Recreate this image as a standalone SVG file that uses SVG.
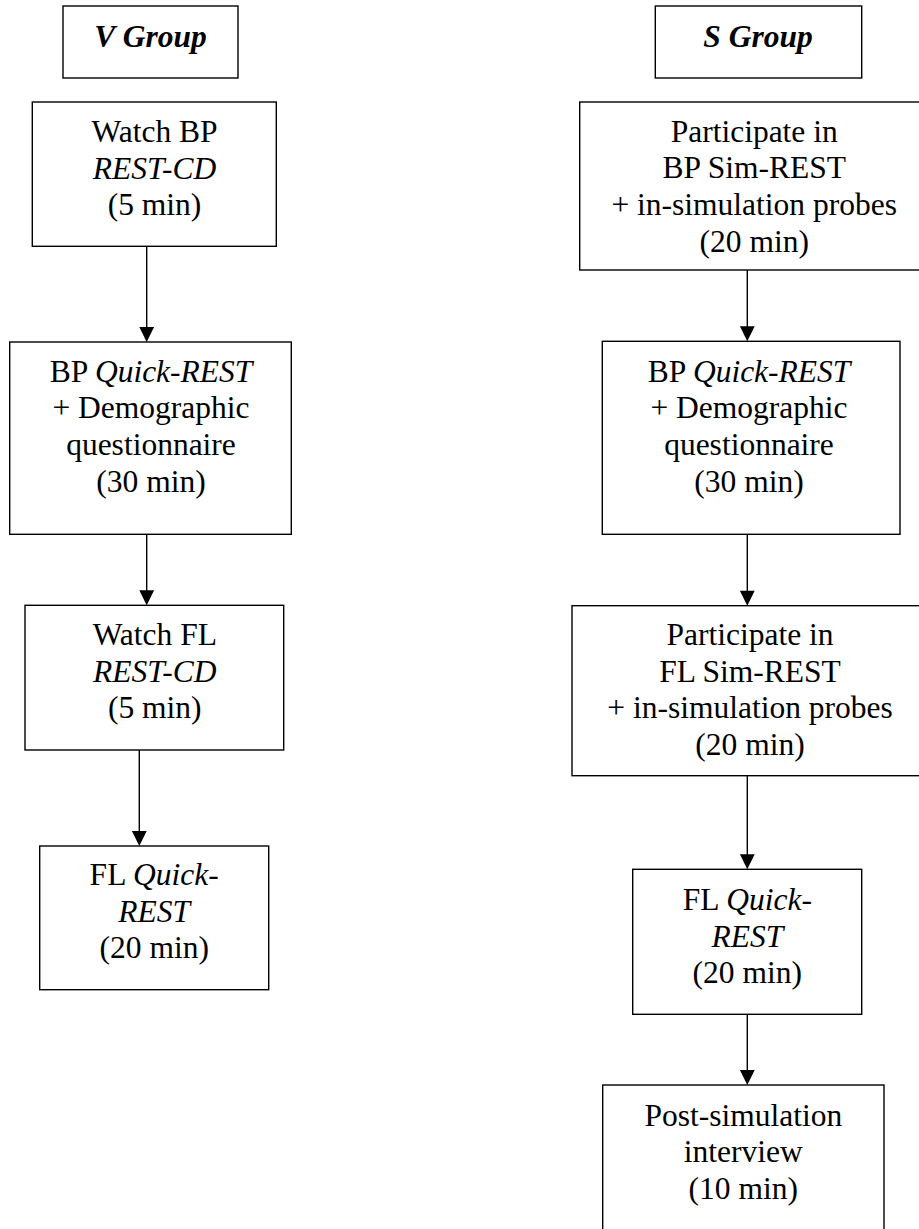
<svg xmlns="http://www.w3.org/2000/svg" width="919" height="1229" viewBox="0 0 919 1229">
<defs>
<style>
.box{fill:#fff;stroke:#000;stroke-width:1.4}
.t{font-family:"Liberation Serif","Times New Roman",serif;font-size:31.5px;fill:#000;text-anchor:middle}
.i{font-style:italic}
.h{font-style:italic;font-weight:bold}
.ln{stroke:#000;stroke-width:1.4;fill:none}
.ah{fill:#000}
</style>
</defs>
<rect width="919" height="1229" fill="#fff"/>
<g id="connectors">
<line class="ln" x1="146.7" y1="246.3" x2="146.7" y2="330"/>
<polygon class="ah" points="139.3,327 154.1,327 146.7,342"/>
<line class="ln" x1="146.7" y1="534.3" x2="146.7" y2="593"/>
<polygon class="ah" points="139.3,590.3 154.1,590.3 146.7,605.3"/>
<line class="ln" x1="139.3" y1="750" x2="139.3" y2="834"/>
<polygon class="ah" points="131.9,831 146.7,831 139.3,846"/>
<line class="ln" x1="747.3" y1="270" x2="747.3" y2="329"/>
<polygon class="ah" points="739.9,326.3 754.7,326.3 747.3,341.3"/>
<line class="ln" x1="747.3" y1="534.3" x2="747.3" y2="593"/>
<polygon class="ah" points="739.9,590.7 754.7,590.7 747.3,605.7"/>
<line class="ln" x1="747.3" y1="775.7" x2="747.3" y2="857"/>
<polygon class="ah" points="739.9,854.3 754.7,854.3 747.3,869.3"/>
<line class="ln" x1="747.3" y1="1014.3" x2="747.3" y2="1073"/>
<polygon class="ah" points="739.9,1070 754.7,1070 747.3,1085"/>
</g>
<g id="v-group">
<rect class="box" x="63" y="6" width="175" height="72"/>
<text class="t h" x="150.5" y="46.7">V Group</text>
</g>
<g id="s-group">
<rect class="box" x="655.3" y="6" width="206.4" height="72"/>
<text class="t h" x="758" y="46.7">S Group</text>
</g>
<g id="v-watch-bp">
<rect class="box" x="32.3" y="102" width="244" height="144.3"/>
<text class="t" x="154.5" y="141.7">Watch BP</text>
<text class="t i" x="154.5" y="178.5">REST-CD</text>
<text class="t" x="154.5" y="215.3">(5 min)</text>
</g>
<g id="v-bp-quick-rest">
<rect class="box" x="9.7" y="342" width="281.6" height="192.3"/>
<text class="t" x="151" y="381.7">BP <tspan class="i">Quick-REST</tspan></text>
<text class="t" x="151" y="418.4">+ Demographic</text>
<text class="t" x="151" y="455.1">questionnaire</text>
<text class="t" x="151" y="491.8">(30 min)</text>
</g>
<g id="v-watch-fl">
<rect class="box" x="25" y="605.3" width="258.7" height="144.7"/>
<text class="t" x="154.8" y="645">Watch FL</text>
<text class="t i" x="154.8" y="681.7">REST-CD</text>
<text class="t" x="154.8" y="718.4">(5 min)</text>
</g>
<g id="v-fl-quick-rest">
<rect class="box" x="39.7" y="846" width="229" height="143.7"/>
<text class="t" x="154.2" y="885">FL <tspan class="i">Quick-</tspan></text>
<text class="t i" x="154.2" y="921.7">REST</text>
<text class="t" x="154.2" y="958.4">(20 min)</text>
</g>
<g id="s-participate-bp">
<rect class="box" x="579.7" y="102" width="350" height="168"/>
<text class="t" x="754.2" y="141.7">Participate in</text>
<text class="t" x="754.2" y="178.4">BP Sim-REST</text>
<text class="t" x="754.2" y="215.1">+ in-simulation probes</text>
<text class="t" x="754.2" y="251.8">(20 min)</text>
</g>
<g id="s-bp-quick-rest">
<rect class="box" x="602.3" y="341.3" width="297.7" height="193"/>
<text class="t" x="749" y="381.7">BP <tspan class="i">Quick-REST</tspan></text>
<text class="t" x="749" y="418.4">+ Demographic</text>
<text class="t" x="749" y="455.1">questionnaire</text>
<text class="t" x="749" y="491.8">(30 min)</text>
</g>
<g id="s-participate-fl">
<rect class="box" x="572" y="605.7" width="360" height="170"/>
<text class="t" x="750" y="645">Participate in</text>
<text class="t" x="750" y="681.7">FL Sim-REST</text>
<text class="t" x="750" y="718.4">+ in-simulation probes</text>
<text class="t" x="750" y="755.1">(20 min)</text>
</g>
<g id="s-fl-quick-rest">
<rect class="box" x="632.7" y="869.3" width="229" height="145"/>
<text class="t" x="747.3" y="910">FL <tspan class="i">Quick-</tspan></text>
<text class="t i" x="747.3" y="946.7">REST</text>
<text class="t" x="747.3" y="983.4">(20 min)</text>
</g>
<g id="s-post-sim">
<rect class="box" x="602.7" y="1085" width="281.3" height="160"/>
<text class="t" x="743.3" y="1125.7">Post-simulation</text>
<text class="t" x="743.3" y="1162.4">interview</text>
<text class="t" x="743.3" y="1199.1">(10 min)</text>
</g>
</svg>
